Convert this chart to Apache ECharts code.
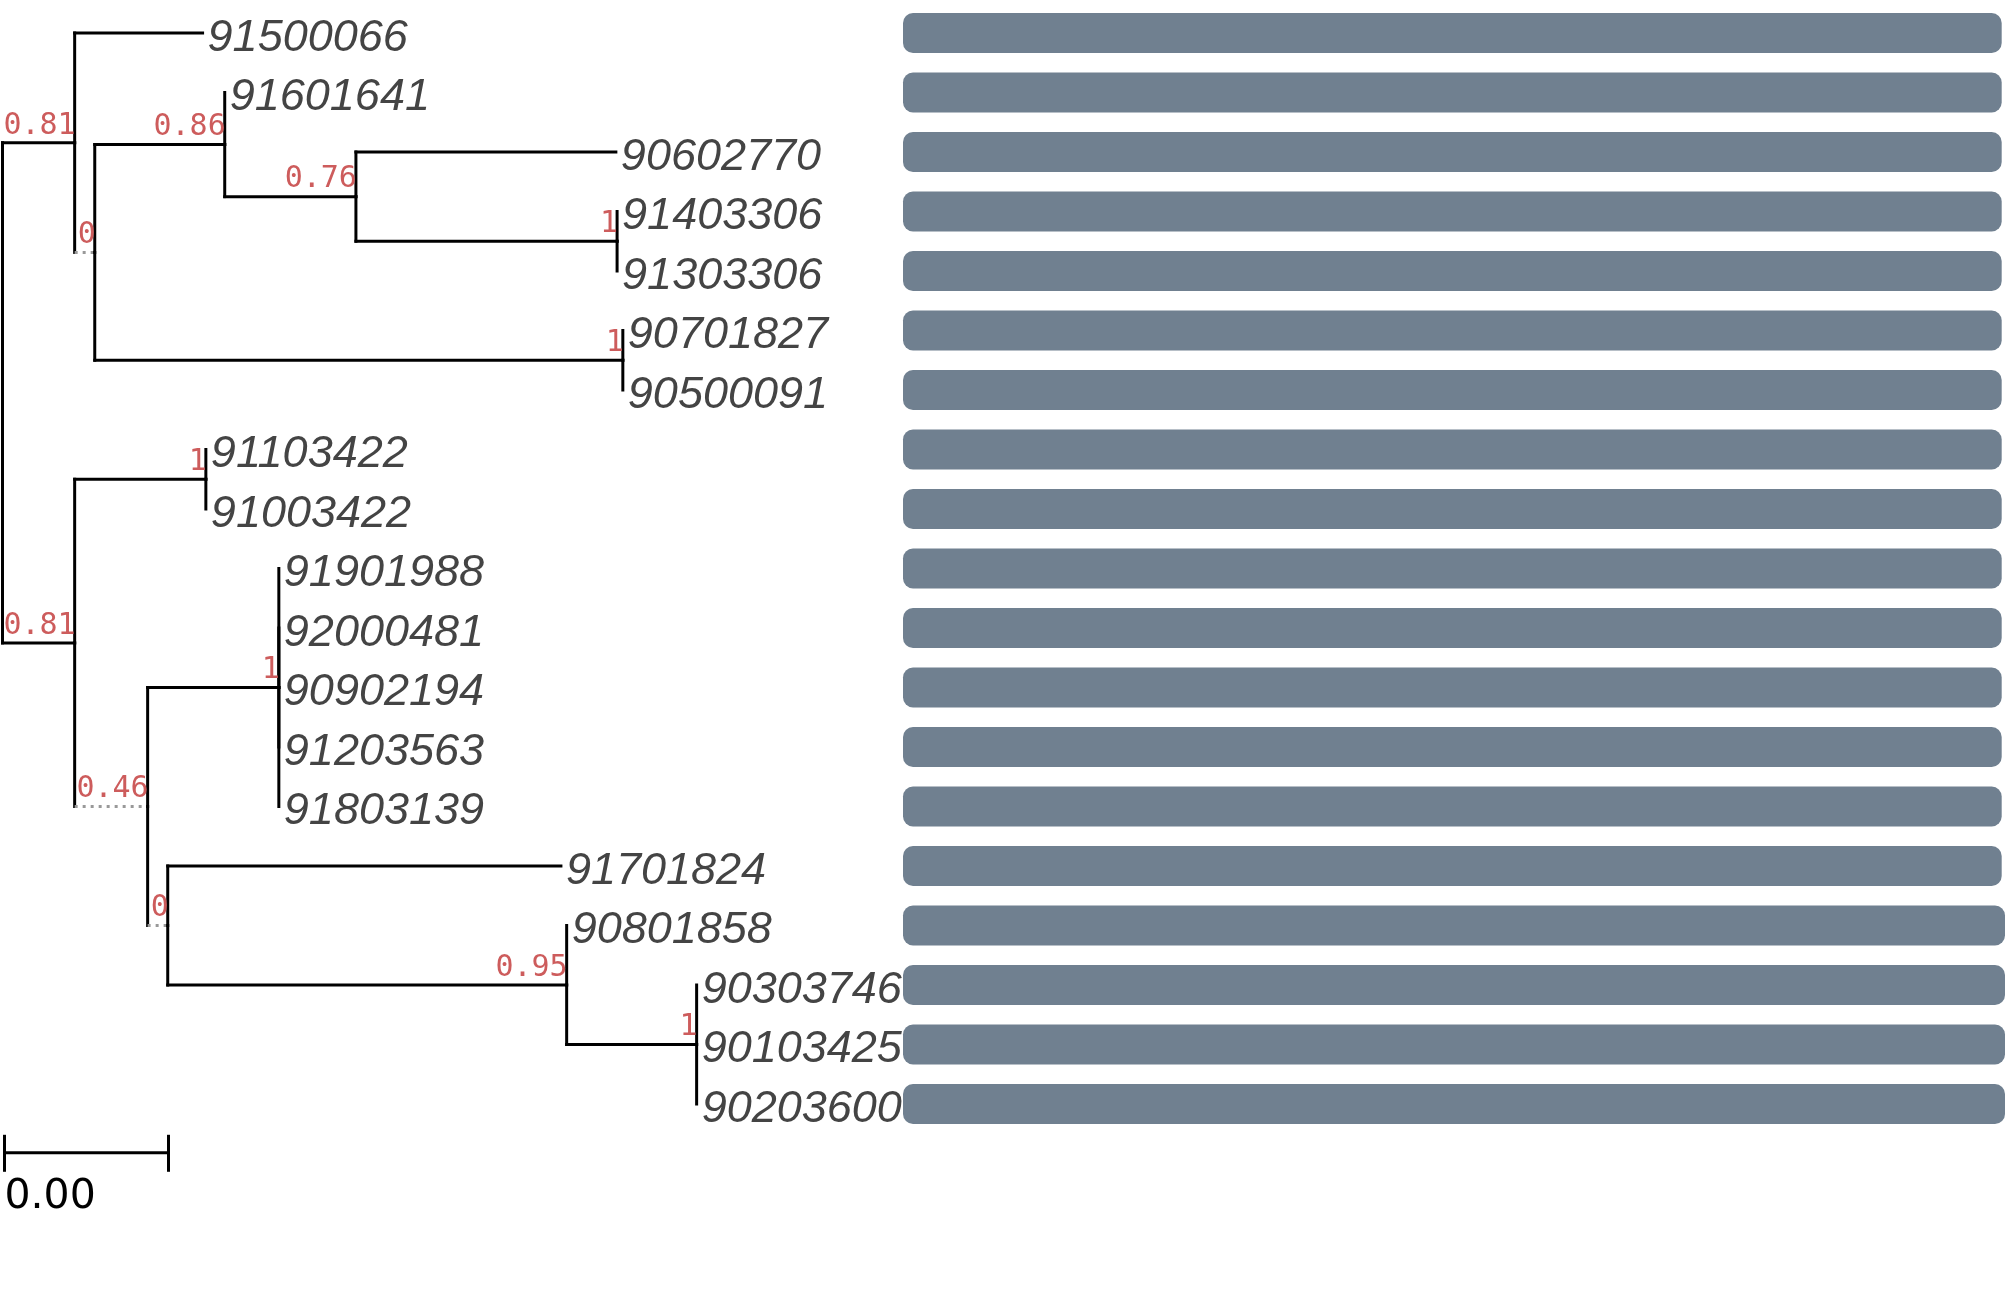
<!DOCTYPE html>
<html>
<head>
<meta charset="utf-8">
<script src="https://cdn.jsdelivr.net/npm/echarts@6/dist/echarts.min.js"></script>
<style>
html, body { margin: 0; padding: 0; background: #fff; }
#chart { width: 2007px; height: 1302px; }
</style>
</head>
<body>
<div id="chart"></div>
<script>
// tree: one entry per node, parent index, branch length, support (internal nodes)
var nodeName = ['', '', '91500066', '', '', '91601641', '', '90602770', '', '91403306', '91303306',
    '', '90701827', '90500091', '', '', '91103422', '91003422', '', '', '91901988', '92000481',
    '90902194', '91203563', '91803139', '', '91701824', '', '90801858', '', '90303746', '90103425', '90203600'];
var nodeParent = [-1, 0, 1, 1, 3, 4, 4, 6, 6, 8, 8, 3, 11, 11, 0, 14, 15, 15, 14, 18,
    19, 19, 19, 19, 19, 18, 25, 25, 27, 27, 29, 29, 29];
var branchLength = [0, 0.00176, 0.00312, 0.00049, 0.00317, 0, 0.0032, 0.00634, 0.00637, 0, 0,
    0.01288, 0, 0, 0.00176, 0.0032, 0, 0, 0.00178, 0.0032, 0, 0, 0, 0, 0,
    0.00049, 0.00959, 0.00973, 0, 0.00317, 0, 0, 0];
var nodeSupport = [null, 0.81, null, 0, 0.86, null, 0.76, null, 1, null, null,
    1, null, null, 0.81, 1, null, null, 0.46, 1, null, null, null, null, null,
    0, null, 0.95, null, 1, null, null, null];
var scaleWidth = 0.004;

// bar panel values (one per tip, top to bottom)
var barValue = [99.7, 99.7, 99.7, 99.7, 99.7, 99.7, 99.7, 99.7, 99.7, 99.7,
    99.7, 99.7, 99.7, 99.7, 99.7, 100, 100, 100, 100];

// ---- layout: x = distance from root, y = tip row / middle of children
var children = nodeName.map(function () { return []; });
nodeParent.forEach(function (p, i) { if (p >= 0) children[p].push(i); });

var nodeX = [], nodeY = [], tips = [];
function place(i, x) {
    nodeX[i] = x;
    if (!children[i].length) {
        nodeY[i] = tips.length;
        tips.push(nodeName[i]);
        return;
    }
    var ys = children[i].map(function (c) {
        place(c, x + branchLength[c]);
        return nodeY[c];
    });
    nodeY[i] = (Math.min.apply(null, ys) + Math.max.apply(null, ys)) / 2;
}
place(0, 0);

var treeData = nodeName.map(function (n, i) {
    var p = nodeParent[i] < 0 ? i : nodeParent[i];
    return [nodeX[i], nodeY[i], nodeX[p], nodeY[p], i];
});

var chart = echarts.init(document.getElementById('chart'));

function renderNode(params, api) {
    var i = api.value(4);
    var pt = api.coord([api.value(0), api.value(1)]);
    var pp = api.coord([api.value(2), api.value(3)]);
    var els = [];
    if (nodeParent[i] >= 0) {
        var weak = nodeSupport[i] !== null && nodeSupport[i] < 0.5;
        els.push({
            type: 'line',
            shape: { x1: pp[0], y1: pp[1], x2: pp[0], y2: pt[1] },
            style: { stroke: '#000', lineWidth: 3, lineCap: 'square' }
        });
        if (pt[0] - pp[0] > 0.5) {
            els.push({
                type: 'line',
                shape: { x1: pp[0], y1: pt[1], x2: pt[0], y2: pt[1] },
                style: weak
                    ? { stroke: '#999', lineWidth: 3, lineDash: [3, 5], lineCap: 'butt' }
                    : { stroke: '#000', lineWidth: 3, lineCap: 'square' }
            });
        }
    }
    if (nodeName[i]) {
        els.push({
            type: 'text',
            x: pt[0] + 5,
            y: pt[1] + 5,
            style: {
                text: nodeName[i], fill: '#444', fontSize: 45, fontStyle: 'italic',
                fontFamily: 'Liberation Sans', align: 'left', verticalAlign: 'middle'
            }
        });
    }
    if (nodeSupport[i] !== null) {
        els.push({
            type: 'text',
            x: pt[0] + 1,
            y: pt[1] - 17,
            z2: 10,
            style: {
                text: String(nodeSupport[i]), fill: '#CD5C5C', fontSize: 30,
                fontFamily: 'DejaVu Sans Mono', align: 'right', verticalAlign: 'middle'
            }
        });
    }
    return { type: 'group', children: els };
}

function renderScale(params, api) {
    var a = api.coord([api.value(0), api.value(1)]);
    var b = api.coord([api.value(0) + scaleWidth, api.value(1)]);
    var x1 = a[0] + 2, x2 = b[0] + 2, y = a[1];
    var st = { stroke: '#000', lineWidth: 3 };
    return {
        type: 'group',
        children: [
            { type: 'line', shape: { x1: x1, y1: y, x2: x2, y2: y }, style: st },
            { type: 'line', shape: { x1: x1, y1: y - 18, x2: x1, y2: y + 19 }, style: st },
            { type: 'line', shape: { x1: x2, y1: y - 18, x2: x2, y2: y + 19 }, style: st },
            {
                type: 'text', x: x1, y: y + 45,
                style: {
                    text: scaleWidth.toFixed(2), fill: '#000', fontSize: 41,
                    fontFamily: 'DejaVu Sans', align: 'left', verticalAlign: 'middle'
                }
            }
        ]
    };
}

var option = {
    animation: false,
    backgroundColor: '#fff',
    grid: [
        { left: 2.5, top: 3.25, width: 902, height: 1130.5 },
        { left: 903, top: 3.25, width: 1102, height: 1130.5 }
    ],
    xAxis: [
        { gridIndex: 0, type: 'value', min: 0, max: 0.022, show: false },
        { gridIndex: 1, type: 'value', min: 0, max: 100, show: false }
    ],
    yAxis: [
        { gridIndex: 0, type: 'value', min: -0.5, max: 18.5, inverse: true, show: false },
        { gridIndex: 1, type: 'category', data: tips, inverse: true, show: false }
    ],
    series: [
        {
            type: 'custom',
            xAxisIndex: 0,
            yAxisIndex: 0,
            clip: false,
            silent: true,
            renderItem: renderNode,
            encode: { x: [0, 2], y: [1, 3] },
            data: treeData
        },
        {
            type: 'custom',
            xAxisIndex: 0,
            yAxisIndex: 0,
            clip: false,
            silent: true,
            renderItem: renderScale,
            data: [[0, 18.82]]
        },
        {
            type: 'bar',
            xAxisIndex: 1,
            yAxisIndex: 1,
            barWidth: 40,
            silent: true,
            itemStyle: { color: '#708090', borderRadius: 10 },
            data: barValue
        }
    ]
};

chart.setOption(option);
</script>
</body>
</html>
